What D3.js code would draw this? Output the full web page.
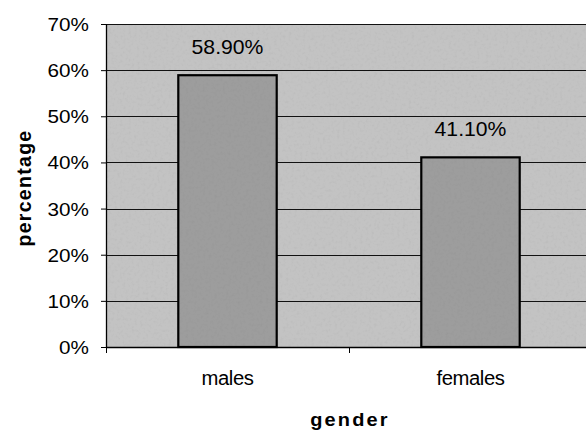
<!DOCTYPE html>
<html>
<head>
<meta charset="utf-8">
<script src="https://cdn.jsdelivr.net/npm/d3@7"></script>
<style>
  html, body { margin: 0; padding: 0; background: #ffffff; }
  svg { display: block; }
  text { font-family: "Liberation Sans", Arial, sans-serif; fill: #000; }
</style>
</head>
<body>
<svg id="chart" width="586" height="434"></svg>
<script>
// Share of respondents by gender
const categories = ["males", "females"];
const values = [58.9, 41.1];
const valueLabels = ["58.90%", "41.10%"];
const yTicks = [0, 10, 20, 30, 40, 50, 60, 70];

const svg = d3.select("#chart");
const margin = { left: 106, top: 24, right: -6, bottom: 87 };
const W = 586, H = 434;
const plotW = W - margin.left - margin.right;
const plotH = H - margin.top - margin.bottom;

const x = d3.scaleBand().domain(categories).range([0, plotW]).paddingInner(0.595).paddingOuter(0.2975);
const y = d3.scaleLinear().domain([0, 70]).range([plotH, 0]);

// grainy fill texture
const defs = svg.append("defs");
const f = defs.append("filter").attr("id", "grain").attr("x", 0).attr("y", 0).attr("width", 1).attr("height", 1);
f.append("feTurbulence").attr("type", "fractalNoise").attr("baseFrequency", 0.35).attr("numOctaves", 2).attr("seed", 4).attr("result", "noise");
f.append("feColorMatrix").attr("in", "noise").attr("type", "matrix")
  .attr("values", "0 0 0 0 0  0 0 0 0 0  0 0 0 0 0  0 0 0 -1.4 0.75").attr("result", "dots");
f.append("feComposite").attr("in", "dots").attr("in2", "SourceGraphic").attr("operator", "in").attr("result", "clip");
f.append("feComponentTransfer").attr("in", "clip").attr("result", "faint")
  .append("feFuncA").attr("type", "linear").attr("slope", 0.12);
const m = f.append("feMerge");
m.append("feMergeNode").attr("in", "SourceGraphic");
m.append("feMergeNode").attr("in", "faint");

const g = svg.append("g").attr("transform", `translate(${margin.left},${margin.top})`);

// plot background
g.append("rect").attr("x", 0).attr("y", 0).attr("width", plotW).attr("height", plotH)
  .attr("fill", "#c3c3c3").attr("filter", "url(#grain)");

// horizontal gridlines
g.append("g").selectAll("line").data(yTicks.filter(d => d > 0)).join("line")
  .attr("x1", 0).attr("x2", plotW)
  .attr("y1", d => Math.round(y(d)) + 0.5).attr("y2", d => Math.round(y(d)) + 0.5)
  .attr("stroke", "#111").attr("stroke-width", 1);

// bars
g.append("g").selectAll("rect").data(values).join("rect")
  .attr("x", (d, i) => x(categories[i]))
  .attr("y", d => y(d))
  .attr("width", x.bandwidth())
  .attr("height", d => plotH - y(d))
  .attr("fill", "#9d9d9d")
  .attr("filter", "url(#grain)");
g.append("g").selectAll("rect").data(values).join("rect")
  .attr("x", (d, i) => x(categories[i]))
  .attr("y", d => y(d))
  .attr("width", x.bandwidth())
  .attr("height", d => plotH - y(d))
  .attr("fill", "none")
  .attr("stroke", "#000").attr("stroke-width", 2.2);

// value labels (the chart's font runs slightly wide)
g.append("g").selectAll("text").data(values).join("text")
  .attr("transform", (d, i) => `translate(${x(categories[i]) + x.bandwidth() / 2},${y(d) - 21}) scale(1.06,1)`)
  .attr("text-anchor", "middle")
  .style("font-size", "20px")
  .text((d, i) => valueLabels[i]);

// y axis
const yAxis = d3.axisLeft(y).tickValues(yTicks).tickFormat(d => d + "%").tickSize(5).tickPadding(0);
const ya = g.append("g").call(yAxis);
ya.select(".domain").attr("stroke", "#000").attr("stroke-width", 1.3).attr("d", `M0.5,0V${plotH}`);
ya.selectAll(".tick line").attr("stroke", "#000");
ya.selectAll(".tick text")
  .attr("x", null).attr("dy", null)
  .attr("transform", "translate(-17,6.5) scale(1.15,1)")
  .style("font-size", "18px")
  .style("font-family", "Liberation Sans, Arial, sans-serif");

// x axis
const xa = g.append("g").attr("transform", `translate(0,${plotH})`);
xa.append("line").attr("x1", 0).attr("x2", plotW).attr("y1", 0.5).attr("y2", 0.5).attr("stroke", "#000").attr("stroke-width", 1.3);
xa.selectAll("line.tk").data([0, (x(categories[0]) + x(categories[1]) + x.bandwidth()) / 2]).join("line")
  .attr("class", "tk")
  .attr("x1", d => d + 0.5).attr("x2", d => d + 0.5).attr("y1", 0).attr("y2", 6).attr("stroke", "#000");
xa.selectAll("text").data(categories).join("text")
  .attr("transform", d => `translate(${x(d) + x.bandwidth() / 2},38) scale(1.04,1)`)
  .attr("text-anchor", "middle")
  .style("font-size", "19.5px")
  .style("letter-spacing", "-0.4px")
  .text(d => d);

// axis titles
svg.append("text")
  .attr("transform", `translate(${margin.left + plotW / 2 + 1},426) scale(1.08,1)`)
  .attr("text-anchor", "middle")
  .style("font-size", "18.5px").style("font-weight", "bold").style("letter-spacing", "2px")
  .text("gender");
svg.append("text")
  .attr("transform", `translate(31,${188}) rotate(-90) scale(1,1.05)`)
  .attr("text-anchor", "middle")
  .style("font-size", "19.5px").style("font-weight", "bold").style("letter-spacing", "1.3px")
  .text("percentage");
</script>
</body>
</html>
